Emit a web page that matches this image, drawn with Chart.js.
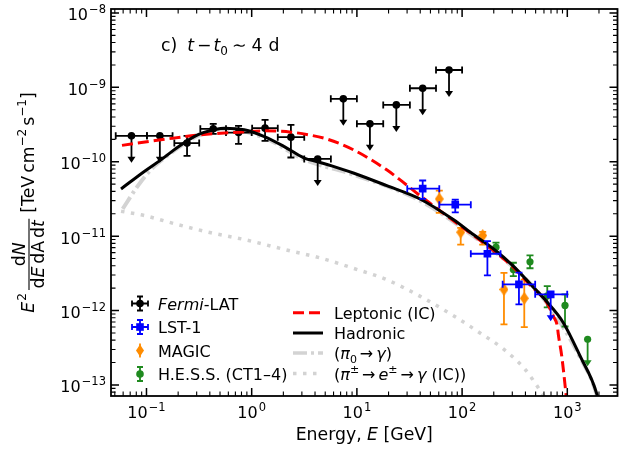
<!DOCTYPE html>
<html>
<head>
<meta charset="utf-8">
<script src="https://cdn.jsdelivr.net/npm/chart.js@4.4.1/dist/chart.umd.min.js"></script>
<style>
  html, body { margin: 0; padding: 0; background: #fff; }
</style>
</head>
<body>
<canvas id="sed" width="639" height="450"></canvas>
<script>
// axis ranges (GeV, TeV cm^-2 s^-1)
const X_MIN = 0.046, X_MAX = 3000;
const Y_MIN = 7.1e-14, Y_MAX = 1.13e-8;

const xDecades = [0.1, 1, 10, 100, 1000];
const xDecadeExp = ['−1', '0', '1', '2', '3'];
const yDecades = [1e-13, 1e-12, 1e-11, 1e-10, 1e-9, 1e-8];
const yDecadeExp = ['−13', '−12', '−11', '−10', '−9', '−8'];

// Fermi-LAT
const fermiE   = [0.072, 0.134, 0.243, 0.431, 0.75, 1.34, 2.36, 4.24, 7.43, 13.3, 23.7, 42.2, 75.1];
const fermiElo = [0.051, 0.101, 0.184, 0.325, 0.57, 1.01, 1.77, 3.16, 5.65, 10.0, 17.8, 31.9, 56.5];
const fermiEhi = [0.101, 0.177, 0.317, 0.57, 1.0, 1.77, 3.16, 5.66, 10.0, 17.8, 31.9, 56.5, 100];
const fermiF   = [2.23e-10, 2.23e-10, 1.78e-10, 2.77e-10, 2.47e-10, 2.83e-10, 2.14e-10, 1.09e-10, 7.0e-10, 3.23e-10, 5.81e-10, 9.73e-10, 1.71e-9];
const fermiFlo = [null, null, 1.2e-10, 2.37e-10, 1.74e-10, 1.91e-10, 1.14e-10, null, null, null, null, null, null];
const fermiFhi = [null, null, 2.23e-10, 3.23e-10, 3.04e-10, 3.66e-10, 3.13e-10, null, null, null, null, null, null];
const fermiUL  = [true, true, false, false, false, false, false, true, true, true, true, true, true];

// LST-1
const lstE   = [42.2, 86.1, 174, 347, 695];
const lstElo = [30.1, 60.7, 121, 243, 495];
const lstEhi = [60.7, 121, 232, 495, 998];
const lstF   = [4.35e-11, 2.65e-11, 5.8e-12, 2.25e-12, 1.65e-12];
const lstFlo = [3.16e-11, 2.09e-11, 2.96e-12, 1.21e-12, null];
const lstFhi = [5.6e-11, 3.1e-11, 8.55e-12, 3.24e-12, null];
const lstUL  = [false, false, false, false, true];

// MAGIC
const magE   = [60.7, 97, 157, 250, 390];
const magF   = [3.16e-11, 1.13e-11, 1.02e-11, 1.92e-12, 1.46e-12];
const magFlo = [2.05e-11, 7.7e-12, 7.7e-12, 6.5e-13, 6.0e-13];
const magFhi = [4.1e-11, 1.29e-11, 1.14e-11, 3.2e-12, 2.6e-12];

// H.E.S.S.
const hessE   = [210, 307, 442, 645, 951, 1560];
const hessF   = [7.1e-12, 3.56e-12, 4.52e-12, 1.58e-12, 1.17e-12, 4.1e-13];
const hessFlo = [6.1e-12, 2.9e-12, 3.7e-12, 1.1e-12, 6.1e-13, null];
const hessFhi = [8.2e-12, 4.39e-12, 5.5e-12, 2.13e-12, 1.65e-12, null];
const hessUL  = [false, false, false, false, false, true];

// models
const lepE = [0.0585, 0.137, 0.323, 0.77, 1.34, 2.36, 3.6, 5.3, 9.24, 19.2, 25.6, 39.8, 53.2, 76.5, 95.3, 148, 307, 442, 637, 736, 803, 821, 885, 972, 1000];
const lepF = [1.66e-10, 1.97e-10, 2.3e-10, 2.5e-10, 2.6e-10, 2.5e-10, 2.28e-10, 2.0e-10, 1.45e-10, 7.8e-11, 5.74e-11, 3.5e-11, 2.57e-11, 1.75e-11, 1.39e-11, 8.8e-12, 3.8e-12, 2.2e-12, 1.28e-12, 8.4e-13, 6.2e-13, 4.8e-13, 2.45e-13, 7.5e-14, 5e-14];

const hadE = [0.0573, 0.0953, 0.137, 0.198, 0.306, 0.441, 0.549, 0.85, 1.32, 2.04, 3.16, 4.24, 5.97, 9.25, 19.2, 39.8, 82.4, 128, 198, 307, 442, 637, 916, 1321, 1905, 2100];
const hadF = [4.31e-11, 7.41e-11, 1.06e-10, 1.57e-10, 2.3e-10, 2.69e-10, 2.83e-10, 2.69e-10, 2.18e-10, 1.6e-10, 1.12e-10, 1.0e-10, 8.65e-11, 7.06e-11, 4.77e-11, 3.16e-11, 1.67e-11, 1.05e-11, 6.76e-12, 3.95e-12, 2.3e-12, 1.32e-12, 6.87e-13, 2.45e-13, 7.6e-14, 4e-14];

const pi0E = [0.0594, 0.0821, 0.110, 0.148, 0.198, 0.306, 0.549, 1.32, 3.16, 9.25, 39.8, 128, 307, 637, 1321, 1905, 2100];
const pi0F = [2.32e-11, 4.66e-11, 7.8e-11, 1.12e-10, 1.52e-10, 2.22e-10, 2.75e-10, 2.1e-10, 1.07e-10, 6.7e-11, 3.0e-11, 1.0e-11, 3.8e-12, 1.27e-12, 2.35e-13, 7.3e-14, 3.8e-14];

const piIcE = [0.0573, 0.0953, 0.198, 0.41, 0.85, 2.36, 4.46, 9.25, 19.2, 40, 82, 148, 250, 400, 550, 650];
const piIcF = [2.16e-11, 1.89e-11, 1.43e-11, 1.11e-11, 9.0e-12, 6.3e-12, 5.1e-12, 3.7e-12, 2.6e-12, 1.55e-12, 8.6e-13, 5.0e-13, 3.0e-13, 1.6e-13, 8.5e-14, 6e-14];

const GREEN = '#1f8a1f';
const ORANGE = '#ff8c00';
const LGRAY = '#d3d3d3';
const FONT = '"DejaVu Sans"';
const ARROW_PX = 27;

function pts(xs, ys) {
    return xs.map((x, i) => ({x: x, y: ys[i]}));
}

function thinDiamond(color, w, h) {
    let c = document.createElement('canvas');
    c.width = w; c.height = h;
    let g = c.getContext('2d');
    g.fillStyle = color;
    g.beginPath();
    g.moveTo(w / 2, 0); g.lineTo(w, h / 2); g.lineTo(w / 2, h); g.lineTo(0, h / 2);
    g.closePath(); g.fill();
    return c;
}

// draw a run of text pieces: [text, size, italic, dy] or a number (gap)
function runWidth(g, parts) {
    let w = 0;
    parts.forEach(p => {
        if (typeof p === 'number') { w += p; return; }
        g.font = (p[2] ? 'italic ' : '') + p[1] + 'px ' + FONT;
        w += g.measureText(p[0]).width;
    });
    return w;
}
function runText(g, parts, x, y) {
    let cx = x;
    parts.forEach(p => {
        if (typeof p === 'number') { cx += p; return; }
        g.font = (p[2] ? 'italic ' : '') + p[1] + 'px ' + FONT;
        g.fillText(p[0], cx, y + (p[3] || 0));
        cx += g.measureText(p[0]).width;
    });
    return cx - x;
}

// error bars + upper-limit arrows, drawn just before each point dataset
const errorBars = {
    id: 'errorBars',
    beforeDatasetDraw(chart, args) {
        let ds = chart.data.datasets[args.index];
        let e = ds.err;
        if (!e) return;
        let xs = chart.scales.x, ys = chart.scales.y, g = chart.ctx, a = chart.chartArea;
        g.save();
        g.beginPath(); g.rect(a.left, a.top, a.right - a.left, a.bottom - a.top); g.clip();
        g.strokeStyle = ds.borderColor; g.fillStyle = ds.borderColor; g.lineWidth = e.lw;
        ds.data.forEach((p, i) => {
            let px = xs.getPixelForValue(p.x), py = ys.getPixelForValue(p.y);
            let c = e.cap;
            g.beginPath();
            if (e.xlo) {
                let x1 = xs.getPixelForValue(e.xlo[i]), x2 = xs.getPixelForValue(e.xhi[i]);
                g.moveTo(x1, py); g.lineTo(x2, py);
                g.moveTo(x1, py - c); g.lineTo(x1, py + c);
                g.moveTo(x2, py - c); g.lineTo(x2, py + c);
            }
            if (e.ul && e.ul[i]) {
                g.moveTo(px, py); g.lineTo(px, py + ARROW_PX - 2);
                g.stroke();
                g.beginPath();
                g.moveTo(px - 4, py + ARROW_PX - 6); g.lineTo(px + 4, py + ARROW_PX - 6); g.lineTo(px, py + ARROW_PX);
                g.closePath(); g.fill();
            } else if (e.ylo && e.ylo[i] != null) {
                let y1 = ys.getPixelForValue(e.yhi[i]), y2 = ys.getPixelForValue(e.ylo[i]);
                g.moveTo(px, y1); g.lineTo(px, y2);
                g.moveTo(px - c, y1); g.lineTo(px + c, y1);
                g.moveTo(px - c, y2); g.lineTo(px + c, y2);
                g.stroke();
            } else {
                g.stroke();
            }
        });
        g.restore();
    }
};

function drawMarker(g, kind, color, x, y) {
    g.fillStyle = color;
    g.beginPath();
    if (kind === 'circle') { g.arc(x, y, 3.8, 0, Math.PI * 2); g.fill(); }
    else if (kind === 'square') { g.fillRect(x - 3.8, y - 3.8, 7.6, 7.6); }
    else { g.moveTo(x, y - 6); g.lineTo(x + 4, y); g.lineTo(x, y + 6); g.lineTo(x - 4, y); g.closePath(); g.fill(); }
}

// frame, ticks, labels, titles, legends
const decor = {
    id: 'decor',
    afterDraw(chart) {
        let g = chart.ctx, a = chart.chartArea, xs = chart.scales.x, ys = chart.scales.y;
        g.save();
        g.strokeStyle = '#000'; g.fillStyle = '#000';

        // ticks, inward on all sides
        function tick(len, w, draw) { g.lineWidth = w; g.beginPath(); draw(len); g.stroke(); }
        xDecades.forEach(d => {
            [1, 2, 3, 4, 5, 6, 7, 8, 9].forEach(m => {
                [d / 10, d].forEach(base => {
                    let v = base * m;
                    if (base === d / 10 && d !== xDecades[0]) return;
                    if (v < X_MIN || v > X_MAX) return;
                    let px = xs.getPixelForValue(v);
                    let major = m === 1;
                    tick(major ? 8 : 4.5, major ? 1.5 : 1.1, L => {
                        g.moveTo(px, a.bottom); g.lineTo(px, a.bottom - L);
                        g.moveTo(px, a.top); g.lineTo(px, a.top + L);
                    });
                });
            });
        });
        yDecades.forEach(d => {
            [1, 2, 3, 4, 5, 6, 7, 8, 9].forEach(m => {
                [d / 10, d].forEach(base => {
                    let v = base * m;
                    if (base === d / 10 && d !== yDecades[0]) return;
                    if (v < Y_MIN || v > Y_MAX) return;
                    let py = ys.getPixelForValue(v);
                    let major = m === 1;
                    tick(major ? 8 : 4.5, major ? 1.5 : 1.1, L => {
                        g.moveTo(a.left, py); g.lineTo(a.left + L, py);
                        g.moveTo(a.right, py); g.lineTo(a.right - L, py);
                    });
                });
            });
        });

        // frame
        g.lineWidth = 1.8;
        g.strokeRect(a.left, a.top, a.right - a.left, a.bottom - a.top);

        // tick labels
        g.textBaseline = 'alphabetic'; g.textAlign = 'left';
        xDecades.forEach((d, i) => {
            let parts = [['10', 16, false, 0], 1, [xDecadeExp[i], 11.5, false, -7]];
            let w = runWidth(g, parts);
            runText(g, parts, xs.getPixelForValue(d) - w / 2, 418);
        });
        yDecades.forEach((d, i) => {
            let parts = [['10', 16, false, 0], 1, [yDecadeExp[i], 11.5, false, -7]];
            let w = runWidth(g, parts);
            runText(g, parts, 106 - w, ys.getPixelForValue(d) + 7.5);
        });

        // x title
        let F = 17.3, S = 12;
        let xt = [['Energy, ', F], ['E', F, true], [' [GeV]', F]];
        let xw = runWidth(g, xt);
        runText(g, xt, (a.left + a.right) / 2 - xw / 2, 440);

        // y title (rotated, with fraction)
        let eParts = [['E', F, true], 1, ['2', S, false, -8]];
        let num = [['d', F], ['N', F, true]];
        let den = [['d', F], ['E', F, true], 3, ['d', F], ['A', F], 3, ['d', F], ['t', F, true]];
        let br = [['[TeV', F], 3, ['cm', F], ['−2', S, false, -8], 3, ['s', F], ['−1', S, false, -8], [']', F]];
        let wE = runWidth(g, eParts), wN = runWidth(g, num), wD = runWidth(g, den), wB = runWidth(g, br);
        let wFrac = Math.max(wN, wD) + 3;
        let total = wE + 3 + wFrac + 6 + wB;
        g.save();
        g.translate(33.5, 0);
        g.rotate(-Math.PI / 2);
        let u0 = -(a.top + a.bottom) / 2 - total / 2;
        runText(g, eParts, u0, 0);
        let u1 = u0 + wE + 3;
        g.lineWidth = 1.1;
        g.beginPath(); g.moveTo(u1, -4.5); g.lineTo(u1 + wFrac, -4.5); g.stroke();
        runText(g, num, u1 + (wFrac - wN) / 2, -8.5);
        runText(g, den, u1 + (wFrac - wD) / 2, 10.5);
        runText(g, br, u1 + wFrac + 6, 0);
        g.restore();

        // annotation
        let A = 17.3;
        runText(g, [['c)', A], 10, ['t', A, true], 3, ['−', A], 2, ['t', A, true], ['0', 12, false, 4], 4, ['∼', A], 5, ['4', A], 6, ['d', A]], 161, 51);

        // left legend: data points
        let legL = [
            {parts: [['Fermi', 16, true], ['-LAT', 16]], color: '#000', marker: 'circle', xerr: true},
            {parts: [['LST-1', 16]], color: 'blue', marker: 'square', xerr: true},
            {parts: [['MAGIC', 16]], color: ORANGE, marker: 'diamond', xerr: false},
            {parts: [['H.E.S.S. (CT1–4)', 16]], color: GREEN, marker: 'circle', xerr: false}
        ];
        [303.5, 327, 350.5, 374].forEach((y, i) => {
            let r = legL[i], x = 140;
            g.strokeStyle = r.color; g.lineWidth = 1.8;
            g.beginPath();
            g.moveTo(x, y - 7); g.lineTo(x, y + 7);
            if (r.marker !== 'diamond') {
                g.moveTo(x - 3, y - 7); g.lineTo(x + 3, y - 7);
                g.moveTo(x - 3, y + 7); g.lineTo(x + 3, y + 7);
            }
            if (r.xerr) {
                g.moveTo(x - 8, y); g.lineTo(x + 8, y);
                g.moveTo(x - 8, y - 3); g.lineTo(x - 8, y + 3);
                g.moveTo(x + 8, y - 3); g.lineTo(x + 8, y + 3);
            }
            g.stroke();
            drawMarker(g, r.marker, r.color, x, y);
            g.fillStyle = '#000';
            runText(g, r.parts, 158, y + 6);
        });

        // right legend: models
        let legR = [
            {parts: [['Leptonic (IC)', 16]], color: 'red', w: 3, dash: [11, 5]},
            {parts: [['Hadronic', 16]], color: '#000', w: 3, dash: []},
            {parts: [['(', 16], ['π', 16, true], ['0', 11, false, 4], 3, ['→', 16], 3, ['γ', 16, true], [')', 16]], color: LGRAY, w: 3.5, dash: [14, 4, 3, 4]},
            {parts: [['(', 16], ['π', 16, true], ['±', 11, false, -7], 3, ['→', 16], 3, ['e', 16, true], ['±', 11, false, -7], 3, ['→', 16], 3, ['γ', 16, true], [' (IC))', 16]], color: LGRAY, w: 3.5, dash: [3.5, 6.5]}
        ];
        [312.7, 333, 353, 373.5].forEach((y, i) => {
            let r = legR[i];
            g.strokeStyle = r.color; g.lineWidth = r.w; g.setLineDash(r.dash);
            g.beginPath(); g.moveTo(293, y); g.lineTo(323, y); g.stroke();
            g.setLineDash([]);
            g.fillStyle = '#000';
            runText(g, r.parts, 334, y + 6);
        });
        g.restore();
    }
};

let datasets = [
    {data: pts(piIcE, piIcF), showLine: true, pointRadius: 0, borderColor: LGRAY, borderWidth: 3.5, borderDash: [3.5, 6.5], cubicInterpolationMode: 'monotone'},
    {data: pts(pi0E, pi0F), showLine: true, pointRadius: 0, borderColor: LGRAY, borderWidth: 4, borderDash: [14, 4, 3, 4], cubicInterpolationMode: 'monotone'},
    {data: pts(fermiE, fermiF), pointRadius: 3.8, pointStyle: 'circle', backgroundColor: '#000', borderColor: '#000', borderWidth: 0,
        err: {xlo: fermiElo, xhi: fermiEhi, ylo: fermiFlo, yhi: fermiFhi, ul: fermiUL, cap: 3.5, lw: 1.8}},
    {data: pts(hessE, hessF), pointRadius: 3.6, pointStyle: 'circle', backgroundColor: GREEN, borderColor: GREEN, borderWidth: 0,
        err: {ylo: hessFlo, yhi: hessFhi, ul: hessUL, cap: 3.5, lw: 1.8}},
    {data: pts(magE, magF), pointStyle: thinDiamond(ORANGE, 9, 13), backgroundColor: ORANGE, borderColor: ORANGE, borderWidth: 0,
        err: {ylo: magFlo, yhi: magFhi, cap: 3.5, lw: 1.8}},
    {data: pts(lepE, lepF), showLine: true, pointRadius: 0, borderColor: 'red', borderWidth: 3, borderDash: [11, 5], cubicInterpolationMode: 'monotone'},
    {data: pts(hadE, hadF), showLine: true, pointRadius: 0, borderColor: '#000', borderWidth: 3, cubicInterpolationMode: 'monotone'},
    {data: pts(lstE, lstF), pointRadius: 5.4, pointStyle: 'rect', backgroundColor: 'blue', borderColor: 'blue', borderWidth: 0,
        err: {xlo: lstElo, xhi: lstEhi, ylo: lstFlo, yhi: lstFhi, ul: lstUL, cap: 3.5, lw: 1.8}}
];
// first in list is drawn at the bottom
datasets.forEach((d, i) => { d.order = datasets.length - i; });

new Chart(document.getElementById('sed'), {
    type: 'scatter',
    data: {datasets: datasets},
    options: {
        responsive: false,
        animation: false,
        events: [],
        layout: {padding: {left: 111, top: 9, right: 21.5, bottom: 54}},
        plugins: {legend: {display: false}, tooltip: {enabled: false}},
        scales: {
            x: {type: 'logarithmic', min: X_MIN, max: X_MAX, bounds: 'data', display: false},
            y: {type: 'logarithmic', min: Y_MIN, max: Y_MAX, bounds: 'data', display: false}
        }
    },
    plugins: [errorBars, decor]
});
</script>
</body>
</html>
